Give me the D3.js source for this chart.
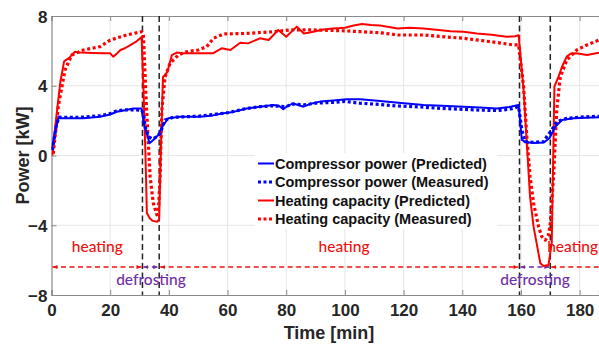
<!DOCTYPE html>
<html>
<head>
<meta charset="utf-8">
<script src="https://cdn.jsdelivr.net/npm/d3@7"></script>
<style>
  html, body { margin: 0; padding: 0; background: #fff; }
  svg { display: block; }
</style>
</head>
<body>
<svg id="chart" width="599" height="346"></svg>
<script>
// ---- data: [time (min), power (kW)] ----
const compPredicted = [[0,0.32],[1,1.2],[2.3,2.13],[6,2.13],[10.8,2.13],[16.5,2.22],[20,2.35],[22.2,2.51],[25,2.6],[27.9,2.7],[30.7,2.7],[31.5,1.8],[32.5,1.27],[33.4,0.7],[34.7,0.89],[36.4,1.18],[38.1,1.75],[39.8,2.13],[43.8,2.22],[50.6,2.22],[55,2.3],[58.6,2.42],[62,2.5],[66.5,2.7],[71.1,2.8],[75.6,2.9],[77.5,2.85],[79,2.65],[80.5,2.85],[82.4,2.99],[84,2.9],[85.9,2.8],[88,2.95],[91.5,3.09],[96,3.15],[100.6,3.22],[105.2,3.22],[112,3.12],[118.2,3.03],[126.8,2.9],[133,2.85],[140.4,2.8],[146,2.75],[151.8,2.7],[156,2.78],[159.2,2.9],[160.3,0.89],[161.4,0.79],[164,0.72],[167.7,0.74],[169.7,0.99],[171.7,1.65],[174,2.04],[177.9,2.13],[182,2.17],[186.6,2.19]];
const compMeasured = [[0.3,0.3],[1.5,1.6],[2.5,2.2],[6,2.18],[10.8,2.2],[16.5,2.28],[20,2.4],[22.2,2.55],[25,2.62],[28,2.62],[30.7,2.6],[31.3,2.42],[31.9,1.65],[33,1.08],[34.5,0.95],[35.9,1.08],[37,1.27],[38.7,2.04],[41.5,2.19],[45,2.22],[50,2.25],[55,2.35],[60,2.45],[66,2.68],[71,2.8],[75,2.85],[80,2.8],[82,2.95],[86,2.9],[90,3.0],[96,3.05],[100,3.1],[105,3.0],[110,2.95],[118,2.84],[126,2.78],[133,2.7],[140,2.65],[146,2.6],[152,2.58],[156,2.65],[159.2,2.8],[160.3,1.46],[161.4,0.79],[164,0.76],[167.7,0.79],[168.8,1.08],[170.5,1.46],[172.2,1.94],[175.6,2.13],[180,2.2],[186.6,2.25]];
const heatPredicted = [[0.3,0],[1.5,2.0],[3,4.2],[4.3,5.4],[6,5.6],[8,5.95],[10,5.9],[14,5.88],[18,5.87],[20,5.86],[21,5.67],[22,5.8],[23.5,6.05],[25,6.15],[27,6.35],[29,6.55],[30.7,6.8],[31.4,3.5],[32,0.2],[32.5,-3.3],[33.5,-3.6],[34.5,-3.75],[36.1,-3.8],[36.7,-3.65],[37.3,0.5],[38,4.5],[39.5,4.8],[41,5.75],[42.7,5.9],[45,5.87],[50,5.86],[55,5.86],[58,6.15],[61,6.05],[64.3,6.47],[67,6.43],[71,6.72],[74,6.62],[77.3,7.2],[80,6.81],[83.6,7.39],[86,7.0],[88,7.05],[92.7,7.23],[96,7.28],[100,7.33],[103,7.45],[105.8,7.54],[109,7.48],[112,7.45],[118,7.28],[122,7.32],[126.8,7.29],[132,7.2],[136,7.12],[140.4,7.1],[145,7.0],[150,6.92],[155.2,6.81],[158,6.84],[159.2,6.9],[160.9,3.76],[162,0.7],[163.1,-2.36],[164.3,-4.08],[166.6,-6.18],[167.7,-6.34],[169.4,-6.28],[170.5,-5.0],[171.4,3.95],[172.8,4.52],[174,5.09],[175.6,5.67],[177,5.85],[179,5.86],[182.5,5.76],[186.6,5.9]];
const heatMeasured = [[0.6,0.1],[2.3,2.8],[4.6,4.9],[6.9,5.76],[10.8,6.05],[16.5,6.24],[20,6.62],[25.6,6.91],[30.7,7.1],[31.3,7.0],[32.3,3.0],[33.6,-1.2],[34.7,-2.74],[35.9,-3.4],[36.5,-3.0],[37,-1.2],[37.6,2.6],[38.7,4.5],[40.4,5.29],[43.2,5.76],[46.1,5.95],[50,6.05],[52.9,6.24],[55.2,6.72],[58.6,6.97],[66.5,7.0],[75.6,7.1],[81.3,7.2],[89.3,7.2],[98.4,7.16],[105.2,7.1],[112,7.04],[118.2,6.91],[126.8,6.91],[133,6.82],[140.4,6.72],[150,6.52],[157.5,6.34],[159.2,6.34],[160.9,3.95],[162,1.08],[163.1,-1.2],[164.3,-2.74],[166,-4.08],[167.1,-4.65],[168.3,-4.85],[169.3,-4.6],[170,-3.9],[171.1,-1.2],[172.2,2.6],[173.4,4.5],[175.6,5.47],[179,6.05],[182.5,6.34],[186.6,6.62]];

// defrost cycle boundaries (min) and the level of the mode indicator line (kW)
const defrostTimes = [31, 36.7, 159.5, 170];
const modeLevel = -6.4;
const modeSegments = [
  { from: 0, to: 31, mode: "heating" },
  { from: 31, to: 36.7, mode: "defrosting" },
  { from: 36.7, to: 159.5, mode: "heating" },
  { from: 159.5, to: 170, mode: "defrosting" },
  { from: 170, to: 186.6, mode: "heating" }
];
const modeLabels = [
  { text: "heating", t: 15.6, v: -5.55, mode: "heating", anchor: "middle" },
  { text: "defrosting", t: 33.9, v: -7.45, mode: "defrosting", anchor: "middle" },
  { text: "heating", t: 99.7, v: -5.55, mode: "heating", anchor: "middle" },
  { text: "defrosting", t: 164.8, v: -7.45, mode: "defrosting", anchor: "middle" },
  { text: "heating", t: 186.3, v: -5.55, mode: "heating", anchor: "end" }
];

const xTicks = [0, 20, 40, 60, 80, 100, 120, 140, 160, 180];
const yTicks = [-8, -4, 0, 4, 8];

const seriesNames = [
  "Compressor power (Predicted)",
  "Compressor power (Measured)",
  "Heating capacity (Predicted)",
  "Heating capacity (Measured)"
];

// ---- layout ----
const svg = d3.select("#chart");
const pLeft = 51.5, pRight = 599, pTop = 16, pBottom = 295;
const x = d3.scaleLinear().domain([0, 186.6]).range([pLeft, pRight]);
const y = d3.scaleLinear().domain([-8, 8]).range([pBottom, pTop]);

const BLUE = "#0000ff", RED = "#ff0000", PURPLE = "#7030a0", AXIS = "#8a8a8a", TEXT = "#262626";
const modeColor = { heating: "#ee1111", defrosting: PURPLE };

// grid
svg.append("g").selectAll("line").data(xTicks.filter(d => d > 0)).join("line")
  .attr("x1", d => x(d)).attr("x2", d => x(d)).attr("y1", pTop).attr("y2", pBottom)
  .attr("stroke", "#e6e6e6").attr("stroke-width", 1);
svg.append("g").selectAll("line").data(yTicks.filter(d => d > -8 && d < 8)).join("line")
  .attr("x1", pLeft).attr("x2", pRight).attr("y1", d => y(d)).attr("y2", d => y(d))
  .attr("stroke", "#e6e6e6").attr("stroke-width", 1);

// axes
const xAxis = d3.axisBottom(x).tickValues(xTicks).tickSize(-5).tickPadding(9).tickFormat(d3.format("d"));
const yAxis = d3.axisLeft(y).tickValues(yTicks).tickSize(-5).tickPadding(4).tickFormat(d3.format("d"));
const gx = svg.append("g").attr("transform", `translate(0,${pBottom})`).call(xAxis);
const gy = svg.append("g").attr("transform", `translate(${pLeft},0)`).call(yAxis);
const gxTop = svg.append("g").attr("transform", `translate(0,${pTop})`)
  .call(d3.axisTop(x).tickValues(xTicks).tickSize(-5).tickFormat(""));
[gx, gy, gxTop].forEach(g => {
  g.select(".domain").attr("stroke", AXIS).attr("stroke-width", 1.2);
  g.selectAll(".tick line").attr("stroke", AXIS).attr("stroke-width", 1);
  g.selectAll(".tick text").attr("fill", TEXT)
    .style("font-family", "'Liberation Sans', Arial, sans-serif")
    .style("font-weight", "bold").style("font-size", "17px");
});
gy.selectAll(".tick text").attr("dy", "0.36em");

// axis titles
svg.append("text").attr("x", 329).attr("y", 339)
  .attr("text-anchor", "middle").attr("fill", TEXT)
  .style("font-family", "'Liberation Sans', Arial, sans-serif")
  .style("font-weight", "bold").style("font-size", "18px")
  .text("Time [min]");
svg.append("text").attr("transform", `translate(29,${y(0)}) rotate(-90)`)
  .attr("text-anchor", "middle").attr("fill", TEXT)
  .style("font-family", "'Liberation Sans', Arial, sans-serif")
  .style("font-weight", "bold").style("font-size", "18px")
  .text("Power [kW]");

// clip region for the plotted curves
svg.append("clipPath").attr("id", "plotClip").append("rect")
  .attr("x", pLeft).attr("y", pTop).attr("width", pRight - pLeft).attr("height", pBottom - pTop);
const plot = svg.append("g").attr("clip-path", "url(#plotClip)");

// mode indicator arrows
const defs = svg.append("defs");
function marker(id, color, dir) {
  const m = defs.append("marker").attr("id", id)
    .attr("viewBox", "0 0 10 10").attr("refX", dir === "end" ? 10 : 0).attr("refY", 5)
    .attr("markerWidth", 5).attr("markerHeight", 5).attr("markerUnits", "userSpaceOnUse")
    .attr("orient", "auto");
  m.append("path").attr("d", dir === "end" ? "M0,1 L10,5 L0,9 Z" : "M10,1 L0,5 L10,9 Z").attr("fill", color);
}
marker("hStart", modeColor.heating, "start");
marker("hEnd", modeColor.heating, "end");
marker("dStart", modeColor.defrosting, "start");
marker("dEnd", modeColor.defrosting, "end");

modeSegments.forEach((s, i) => {
  const isHeat = s.mode === "heating";
  const last = i === modeSegments.length - 1;
  const ln = plot.append("line")
    .attr("x1", x(s.from) + 1).attr("x2", last ? x(s.to) : x(s.to) - 1)
    .attr("y1", y(modeLevel)).attr("y2", y(modeLevel))
    .attr("stroke", modeColor[s.mode]).attr("stroke-width", 1.5)
    .attr("stroke-dasharray", "5,3.5")
    .attr("marker-start", `url(#${isHeat ? "hStart" : "dStart"})`);
  if (!last) ln.attr("marker-end", `url(#${isHeat ? "hEnd" : "dEnd"})`);
});

// defrost boundary lines
plot.append("g").selectAll("line").data(defrostTimes).join("line")
  .attr("x1", d => x(d)).attr("x2", d => x(d)).attr("y1", pTop).attr("y2", pBottom)
  .attr("stroke", "#222").attr("stroke-width", 1.5).attr("stroke-dasharray", "6,3.5");

// curves
const line = d3.line().x(d => x(d[0])).y(d => y(d[1]));
const curves = [
  { data: heatMeasured, color: RED, dotted: true },
  { data: heatPredicted, color: RED, dotted: false },
  { data: compMeasured, color: BLUE, dotted: true },
  { data: compPredicted, color: BLUE, dotted: false }
];
curves.forEach(c => {
  plot.append("path").datum(c.data).attr("d", line)
    .attr("fill", "none").attr("stroke", c.color)
    .attr("stroke-width", c.dotted ? 3.2 : 2)
    .attr("stroke-linejoin", "round")
    .attr("stroke-dasharray", c.dotted ? "3,2.6" : null);
});

// mode labels
modeLabels.forEach(l => {
  plot.append("text").attr("x", x(l.t)).attr("y", y(l.v))
    .attr("text-anchor", l.anchor).attr("fill", modeColor[l.mode])
    .style("font-family", "Lato, 'Noto Sans', sans-serif").style("font-size", "15.5px")
    .style("font-weight", "500")
    .text(l.text);
});

// legend
const legendStyles = [
  { color: BLUE, dotted: false },
  { color: BLUE, dotted: true },
  { color: RED, dotted: false },
  { color: RED, dotted: true }
];
const lg = svg.append("g");
lg.append("rect").attr("x", 255).attr("y", 153).attr("width", 242).attr("height", 76).attr("fill", "#fff");
seriesNames.forEach((name, i) => {
  const cy = 163.5 + i * 18.5;
  lg.append("line").attr("x1", 258).attr("x2", 274).attr("y1", cy).attr("y2", cy)
    .attr("stroke", legendStyles[i].color)
    .attr("stroke-width", legendStyles[i].dotted ? 3 : 2)
    .attr("stroke-dasharray", legendStyles[i].dotted ? "3,2.5" : null);
  lg.append("text").attr("x", 275).attr("y", cy).attr("dy", "0.36em")
    .attr("fill", "#111")
    .style("font-family", "'Liberation Sans', Arial, sans-serif")
    .style("font-weight", "bold").style("font-size", "14.5px")
    .text(name);
});
</script>
</body>
</html>
